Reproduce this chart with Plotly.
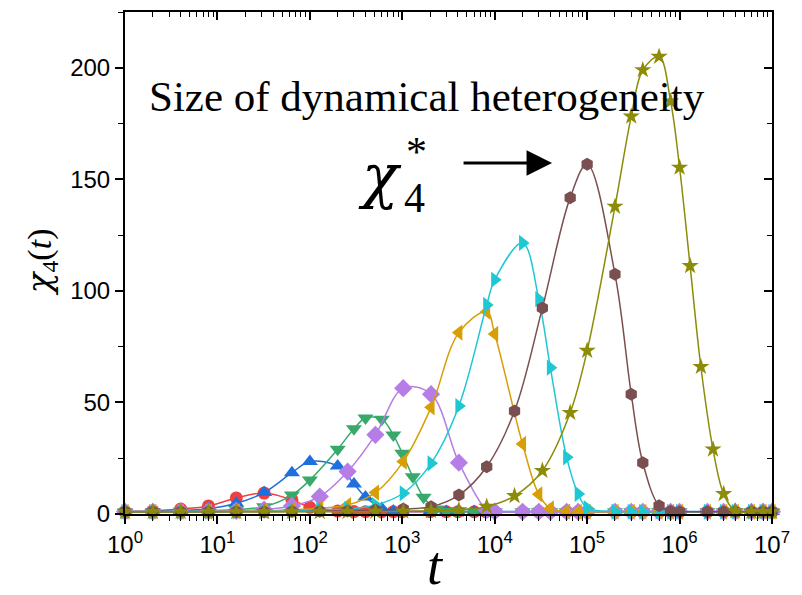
import plotly.graph_objects as go

# ---- time grids (t) and chi_4(t) values per temperature ----
red_t = [1, 2, 4, 8, 16, 32, 64, 100, 200, 300, 400, 600, 800,
         1e3, 2e3, 3e3, 4e3, 6e3, 8e3, 1e4, 2e4, 3e4, 4e4, 6e4, 8e4,
         1e5, 2e5, 3e5, 4e5, 6e5, 8e5, 1e6, 2e6, 3e6, 4e6, 6e6, 8e6, 1e7]
red_y = [1.2, 1.4, 2.2, 3.6, 7.2, 9.4, 6.3, 3.0, 1.3, 1.1, 1.0, 1.0, 1.0,
         1.0, 1.0, 1.0, 1.0, 1.0, 1.0, 1.0, 1.0, 1.0, 1.0, 1.0, 1.0,
         1.0, 1.0, 1.0, 1.0, 1.0, 1.0, 1.0, 1.0, 1.0, 1.0, 1.0, 1.0, 1.0]

blue_t = [1, 2, 4, 8, 16, 32, 64, 100, 200, 300, 400, 600, 800,
          1e3, 2e3, 3e3, 4e3, 6e3, 8e3, 1e4, 2e4, 3e4, 4e4, 6e4, 8e4,
          1e5, 2e5, 3e5, 4e5, 6e5, 8e5, 1e6, 2e6, 3e6, 4e6, 6e6, 8e6, 1e7]
blue_y = [1.1, 1.2, 1.5, 2.4, 4.8, 9.6, 18.5, 23.5, 21.5, 13.5, 7.6, 2.5, 1.3,
          1.1, 1.1, 1.1, 1.1, 1.1, 1.1, 1.1, 1.1, 1.1, 1.1, 1.1, 1.1,
          1.1, 1.1, 1.1, 1.1, 1.1, 1.1, 1.1, 1.1, 1.1, 1.1, 1.1, 1.1, 1.1]

green_t = [1, 2, 4, 8, 16, 32, 64, 100, 200, 300, 400, 600, 800,
           1e3, 1.3e3, 1.7e3, 2.3e3, 3e3, 4e3, 6e3, 8e3,
           1e4, 2e4, 3e4, 4e4, 6e4, 8e4, 1e5, 2e5, 3e5, 4e5, 6e5, 8e5,
           1e6, 2e6, 3e6, 4e6, 6e6, 8e6, 1e7]
green_y = [1.0, 1.1, 1.2, 1.5, 2.0, 3.3, 8.5, 15.2, 29.0, 38.2, 43.0, 42.5, 35.4,
           27.2, 16.7, 7.5, 2.2, 1.1, 1.0, 1.0, 1.0,
           1.0, 1.0, 1.0, 1.0, 1.0, 1.0, 1.0, 1.0, 1.0, 1.0, 1.0, 1.0,
           1.0, 1.0, 1.0, 1.0, 1.0, 1.0, 1.0]

purple_t = [1, 2, 4, 8, 16, 32, 64, 128, 256, 512, 1024, 2048, 4096, 8192,
            1e4, 2e4, 3e4, 4e4, 6e4, 8e4, 1e5, 2e5, 3e5, 4e5, 6e5, 8e5,
            1e6, 2e6, 3e6, 4e6, 6e6, 8e6, 1e7]
purple_y = [1.0, 1.0, 1.1, 1.2, 1.4, 2.0, 3.6, 7.8, 19.0, 35.5, 56.4, 53.7, 23.0, 1.8,
            1.1, 1.0, 1.0, 1.0, 1.0, 1.0, 1.0, 1.0, 1.0, 1.0, 1.0, 1.0,
            1.0, 1.0, 1.0, 1.0, 1.0, 1.0, 1.0]

orange_t = [1, 2, 4, 8, 16, 32, 64, 128, 256, 512, 1024, 2048, 4096, 8192,
            1e4, 2e4, 3e4, 4e4, 6e4, 8e4, 1e5, 2e5, 3e5, 4e5, 6e5, 8e5,
            1e6, 2e6, 3e6, 4e6, 6e6, 8e6, 1e7]
orange_y = [1.0, 1.0, 1.0, 1.1, 1.2, 1.4, 1.9, 2.6, 4.0, 9.6, 23.5, 47.8, 81.3, 90.7,
            80.7, 31.4, 8.8, 2.5, 1.1, 1.0, 1.0, 1.0, 1.0, 1.0, 1.0, 1.0,
            1.0, 1.0, 1.0, 1.0, 1.0, 1.0, 1.0]

cyan_t = [1, 2, 4, 8, 16, 32, 64, 128, 256, 512, 1024, 2048, 4096, 8192,
          1e4, 2e4, 3e4, 4e4, 6e4, 8e4, 1e5, 2e5, 3e5, 4e5, 6e5, 8e5,
          1e6, 2e6, 3e6, 4e6, 6e6, 8e6, 1e7]
cyan_y = [1.0, 1.0, 1.0, 1.0, 1.1, 1.2, 1.4, 1.9, 2.2, 4.0, 9.3, 22.7, 48.4, 93.7,
          105.0, 121.5, 96.3, 65.6, 25.4, 9.0, 2.7, 1.1, 1.0, 1.0, 1.0, 1.0,
          1.0, 1.0, 1.0, 1.0, 1.0, 1.0, 1.0]

brown_t = [1, 2, 4, 8, 16, 32, 64, 128, 256, 512, 1024, 2048, 4096, 8192,
           16384, 32768, 65536, 1e5, 2e5, 3e5, 4e5, 6e5, 8e5,
           1e6, 2e6, 3e6, 4e6, 6e6, 8e6, 1e7]
brown_y = [1.0, 1.0, 1.0, 1.0, 1.0, 1.0, 1.1, 1.2, 1.4, 1.8, 2.2, 3.3, 8.5, 21.2,
           46.2, 92.3, 141.8, 156.8, 107.5, 53.7, 23.0, 3.7, 1.2,
           1.0, 1.0, 1.0, 1.0, 1.0, 1.0, 1.0]

olive_t = [1, 2, 4, 8, 16, 32, 64, 128, 256, 512, 1024, 2048, 4096, 8192,
           16384, 32768, 65536, 1e5, 2e5, 3e5, 4e5, 6e5, 8e5,
           1e6, 1.3e6, 1.7e6, 2.3e6, 3e6, 4e6, 6e6, 8e6, 1e7]
olive_y = [1.0, 1.0, 1.0, 1.0, 1.0, 1.0, 1.0, 1.0, 1.0, 1.1, 1.2, 1.4, 1.8, 3.3,
           8.1, 19.4, 45.4, 73.2, 137.8, 178.2, 199.0, 205.0, 185.0,
           155.3, 111.2, 66.0, 29.0, 9.0, 1.3, 1.0, 1.0, 1.0]

series = [
    (red_t, red_y, "#ee4040", "circle", 13),
    (blue_t, blue_y, "#1f6fdc", "triangle-up", 14),
    (green_t, green_y, "#38a96b", "triangle-down", 14),
    (purple_t, purple_y, "#b67de6", "diamond", 14),
    (orange_t, orange_y, "#d79e05", "triangle-left", 14),
    (cyan_t, cyan_y, "#1ec8d3", "triangle-right", 14),
    (brown_t, brown_y, "#7b4f4f", "hexagon", 13),
    (olive_t, olive_y, "#8c8c08", "star", 13),
]

x_ticks = [10 ** k for k in range(8)]
x_ticktext = [f"10<sup>{k}</sup>" for k in range(8)]
x_minor = [m * 10 ** k for k in range(7) for m in range(2, 10)]
y_ticks = [0, 50, 100, 150, 200]
y_minor = [25, 75, 125, 175, 225]

fig = go.Figure()
for t, y, color, symbol, size in series:
    fig.add_trace(go.Scatter(
        x=t, y=y, mode="lines+markers",
        line=dict(color=color, width=1.5, shape="spline", smoothing=1.0),
        marker=dict(color=color, symbol=symbol, size=size, line=dict(width=0)),
        cliponaxis=False, showlegend=False,
    ))

# companion axes carrying the mirrored inside ticks on the top and right
fig.add_trace(go.Scatter(x=[], y=[], xaxis="x2", yaxis="y2",
                         showlegend=False, hoverinfo="skip"))

tick_font = dict(family="Liberation Sans, Arial", size=24, color="black")

fig.update_layout(
    width=802, height=595,
    margin=dict(l=125, r=21, t=12, b=81),
    paper_bgcolor="white", plot_bgcolor="white",
    xaxis=dict(
        type="log", range=[0, 7],
        tickmode="array", tickvals=x_ticks, ticktext=x_ticktext,
        ticks="outside", ticklen=8, tickwidth=1.5, tickcolor="black",
        minor=dict(tickmode="array", tickvals=x_minor, ticks="outside",
                   ticklen=5, tickwidth=1.2, tickcolor="black", showgrid=False),
        showline=True, linewidth=2, linecolor="black",
        showgrid=False, zeroline=False, tickfont=tick_font,
    ),
    yaxis=dict(
        range=[0, 225],
        tickmode="array", tickvals=y_ticks,
        ticks="outside", ticklen=8, tickwidth=1.5, tickcolor="black",
        minor=dict(tickmode="array", tickvals=y_minor, ticks="outside",
                   ticklen=5, tickwidth=1.2, tickcolor="black", showgrid=False),
        showline=True, linewidth=2, linecolor="black",
        showgrid=False, zeroline=False, tickfont=tick_font,
    ),
    xaxis2=dict(
        type="log", range=[0, 7], overlaying="x", side="top", anchor="y",
        tickmode="array", tickvals=x_ticks, showticklabels=False,
        ticks="inside", ticklen=8, tickwidth=1.5, tickcolor="black",
        minor=dict(tickmode="array", tickvals=x_minor, ticks="inside",
                   ticklen=5, tickwidth=1.2, tickcolor="black", showgrid=False),
        showline=True, linewidth=2, linecolor="black",
        showgrid=False, zeroline=False,
    ),
    yaxis2=dict(
        range=[0, 225], overlaying="y", side="right", anchor="x",
        tickmode="array", tickvals=y_ticks, showticklabels=False,
        ticks="inside", ticklen=8, tickwidth=1.5, tickcolor="black",
        minor=dict(tickmode="array", tickvals=y_minor, ticks="inside",
                   ticklen=5, tickwidth=1.2, tickcolor="black", showgrid=False),
        showline=True, linewidth=2, linecolor="black",
        showgrid=False, zeroline=False,
    ),
)

serif = "Liberation Serif, Times New Roman, serif"
greek = "DejaVu Serif, serif"

def px_x(p):
    return (p - 125) / 656

def px_y(p):
    return (514 - p) / 502

annotations = [
    dict(text="Size of dynamical heterogeneity", x=px_x(431), y=px_y(97),
         font=dict(family=serif, size=43, color="black")),
    dict(text="<i>χ</i>", x=px_x(384), y=px_y(176),
         font=dict(family=greek, size=60, color="black")),
    dict(text="*", x=px_x(421), y=px_y(152),
         font=dict(family=serif, size=42, color="black")),
    dict(text="4", x=px_x(419), y=px_y(198),
         font=dict(family=serif, size=42, color="black")),
    dict(text="<span style='font-family:DejaVu Serif'><i>χ</i></span>"
              "<sub>4</sub>(<i>t</i>)", x=px_x(40), y=px_y(262),
         textangle=-90, font=dict(family=serif, size=34, color="black")),
    dict(text="<i>t</i>", x=px_x(440), y=px_y(566),
         font=dict(family=serif, size=54, color="black")),
]
for a in annotations:
    fig.add_annotation(xref="paper", yref="paper", showarrow=False,
                       xanchor="center", yanchor="middle", **a)

# arrow pointing at the peak height chi_4^*
fig.add_annotation(xref="paper", yref="paper", x=px_x(558), y=px_y(163),
                   ax=-90, ay=0, text="", showarrow=True,
                   arrowhead=2, arrowwidth=3, arrowsize=1.7,
                   arrowcolor="black", standoff=0)

fig.write_html("out.html")
